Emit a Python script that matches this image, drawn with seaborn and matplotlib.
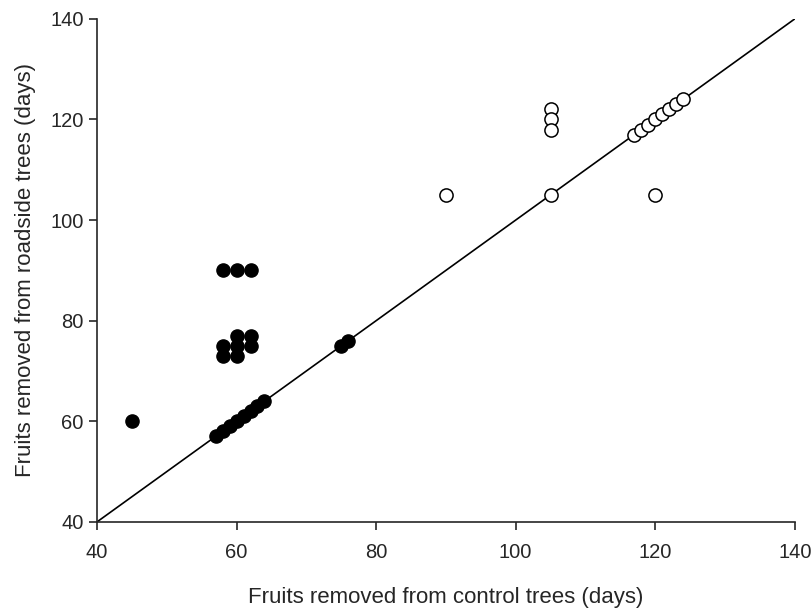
import numpy as np
import pandas as pd
import seaborn as sns
import matplotlib.pyplot as plt

sns.set_style("ticks")
plt.rcParams['font.family'] = ['Liberation Sans', 'DejaVu Sans']

## datos (dias)
control_llenos = [45, 58, 60, 62, 58, 58, 60, 60, 60, 62, 62,
                  57, 58, 59, 60, 61, 62, 63, 64, 75, 76]
ruta_llenos = [60, 90, 90, 90, 75, 73, 77, 75, 73, 77, 75,
               57, 58, 59, 60, 61, 62, 63, 64, 75, 76]
control_vacios = [90, 105, 105, 105, 105, 120,
                  117, 118, 119, 120, 121, 122, 123, 124]
ruta_vacios = [105, 122, 120, 118, 105, 105,
               117, 118, 119, 120, 121, 122, 123, 124]

df_llenos = pd.DataFrame({'control': control_llenos, 'ruta': ruta_llenos})
df_vacios = pd.DataFrame({'control': control_vacios, 'ruta': ruta_vacios})

fig = plt.figure(figsize=(8.11, 6.09), dpi=100)
ax = fig.add_axes([0.1196, 0.143, 0.8604, 0.826])

ax.plot([40, 140], [40, 140], color='black', lw=1.2, zorder=1)
sns.scatterplot(data=df_llenos, x='control', y='ruta', ax=ax, s=90,
                color='black', edgecolor='black', linewidth=1, zorder=3)
sns.scatterplot(data=df_vacios, x='control', y='ruta', ax=ax, s=90,
                facecolor='white', edgecolor='black', linewidth=1.1, zorder=3)

ax.set_xlim(40, 140)
ax.set_ylim(40, 140)
ax.set_xticks(np.arange(40, 141, 20))
ax.set_yticks(np.arange(40, 141, 20))
ax.tick_params(labelsize=14.5, length=6, width=1.2, direction='out')
ax.tick_params(axis='x', pad=9)
for lado in ['left', 'bottom']:
    ax.spines[lado].set_linewidth(1.2)
sns.despine(ax=ax)
ax.set_xlabel('Fruits removed from control trees (days)', fontsize=16, labelpad=18)
ax.set_ylabel('Fruits removed from roadside trees (days)', fontsize=16, labelpad=10)

fig.savefig('out.png', dpi=100)
